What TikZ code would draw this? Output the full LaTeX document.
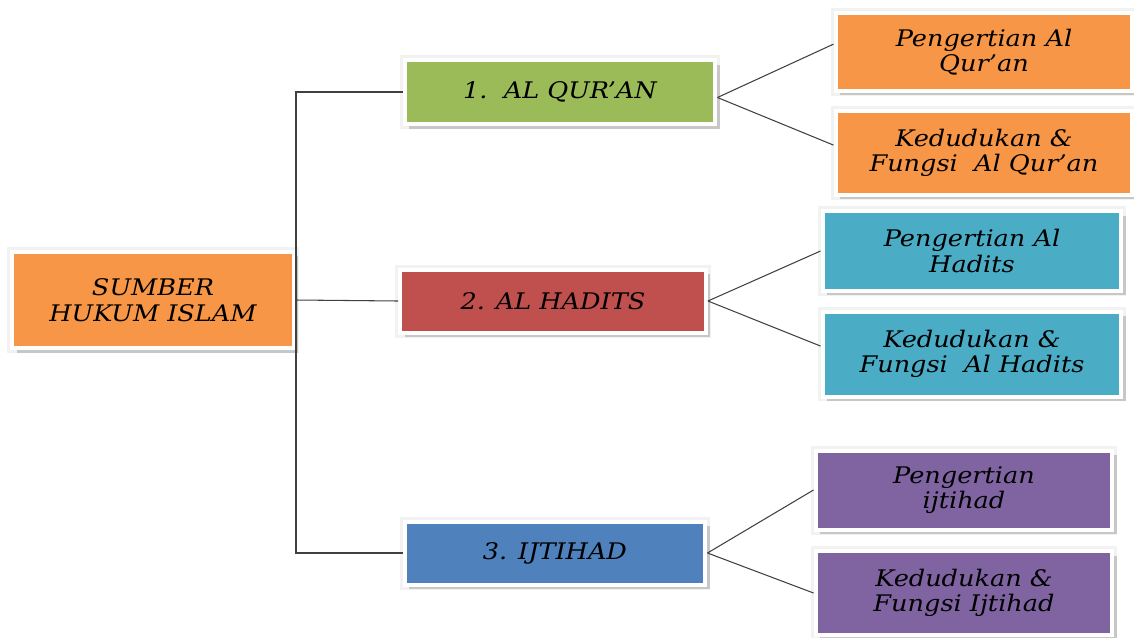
\documentclass[tikz,border=0pt]{standalone}
\usepackage{fontspec}
\setmainfont{DejaVu Serif}[FakeStretch=1.12]
\usepackage{tikz}
\usetikzlibrary{shadows}

\definecolor{oranye}{HTML}{F79646}
\definecolor{hijau}{HTML}{9BBB59}
\definecolor{merah}{HTML}{C0504D}
\definecolor{biru}{HTML}{4F81BD}
\definecolor{tosca}{HTML}{4BACC6}
\definecolor{ungu}{HTML}{8064A2}

\tikzset{
	kotak/.style={ % every box: grey halo, white frame and a soft shadow
			preaction={draw=black!5, line width=0.2cm},
			drop shadow={shadow xshift=0.09cm, shadow yshift=-0.09cm, fill=black!22, opacity=1},
			draw=white,
			line width=0.08cm,
			align=center,
			font=\fontsize{13}{14.5}\selectfont\itshape,
			text=black
		},
	cabang/.style={kotak, minimum width=6.1cm, minimum height=1.26cm}, % middle column
	daun/.style={kotak, minimum width=5.94cm, minimum height=1.6cm}, % right column
	garis/.style={ % connectors
			draw=black!75,
			line width=0.6pt
		}
}

\begin{document}
\begin{tikzpicture}[x=0.02cm, y=-0.02cm]
	\useasboundingbox (0,0) rectangle (1134,637);

	\node[kotak, fill=oranye, minimum width=5.64cm, minimum height=1.94cm] (sumber) at (153,300) {SUMBER\\HUKUM ISLAM};

	\node[cabang, fill=hijau, minimum width=6.22cm, minimum height=1.28cm] (quran) at (560,92) {1.\ \ AL QUR’AN};
	\node[cabang, fill=merah, minimum width=6.12cm] (hadits) at (553,301) {2. AL HADITS};
	\node[cabang, fill=biru, minimum width=6.02cm] (ijtihad) at (555,553) {3. IJTIHAD};

	\node[daun, fill=oranye, minimum height=1.56cm] (q1) at (984,52) {Pengertian Al\\Qur’an};
	\node[daun, fill=oranye, minimum height=1.68cm] (q2) at (984,153) {Kedudukan \&\\Fungsi\ \ Al Qur’an};
	\node[daun, fill=tosca, minimum width=5.98cm] (h1) at (972,251) {Pengertian Al\\Hadits};
	\node[daun, fill=tosca, minimum width=5.98cm, minimum height=1.7cm] (h2) at (972,354) {Kedudukan \&\\Fungsi\ \ Al Hadits};
	\node[daun, fill=ungu, minimum height=1.58cm] (i1) at (964,490) {Pengertian\\ijtihad};
	\node[daun, fill=ungu, minimum height=1.68cm] (i2) at (964,593) {Kedudukan \&\\Fungsi Ijtihad};

	% pohon
	\draw[garis, line width=0.9pt] (quran.west) -| (sumber.east) |- (ijtihad.west);
	\draw[garis] (sumber.east) -- (hadits.west);

	\draw[garis] (quran.-2) -- (q1.177);
	\draw[garis] (quran.-2) -- (q2.177);
	\draw[garis] (hadits.east) -- (h1.west);
	\draw[garis] (hadits.east) -- (h2.177);
	\draw[garis] (ijtihad.east) -- (i1.west);
	\draw[garis] (ijtihad.east) -- (i2.west);
\end{tikzpicture}
\end{document}
